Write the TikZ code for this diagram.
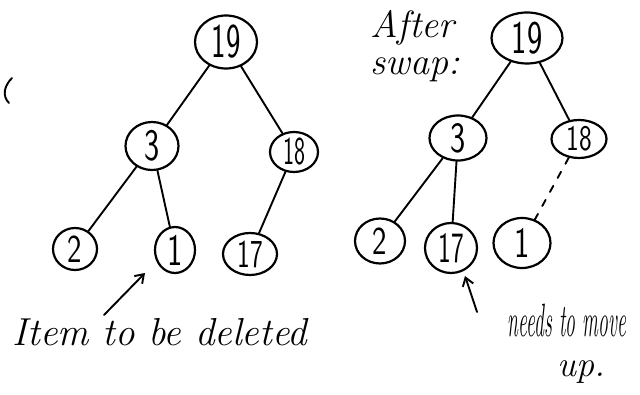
\documentclass[tikz,border=0pt]{standalone}
\usepackage{fontspec}
\usetikzlibrary{shapes.geometric,arrows.meta}
\begin{document}
\begin{tikzpicture}[x=1pt,y=-1pt,
  every path/.style={line width=2pt,line cap=round,line join=round},
  heapnode/.style={draw,ellipse,inner sep=0pt,line width=2.2pt,
    font=\fontsize{36}{36}\sffamily\selectfont},
  edge/.style={draw,line width=1.9pt},
  pointer/.style={draw,line width=1.9pt,-{Straight Barb[length=8pt,width=11pt]}},
  note/.style={font=\fontsize{32}{32}\selectfont\itshape,inner sep=0pt}]
\useasboundingbox (0,0) rectangle (640,395);
\fill[white] (0,0) rectangle (640,395);

% heap before the swap
\node[heapnode,minimum width=62pt,minimum height=53pt] (a19) at (226,42) {\scalebox{0.85}[1.35]{19}};
\node[heapnode,minimum width=53pt,minimum height=48pt] (a3)  at (152,146) {\scalebox{0.9}[1.25]{3}};
\node[heapnode,minimum width=48pt,minimum height=40pt] (a18) at (294,152) {\scalebox{0.65}[1.1]{18}};
\node[heapnode,minimum width=44pt,minimum height=42pt] (a2)  at (75,249) {\scalebox{0.85}[1.1]{2}};
\node[heapnode,minimum width=40pt,minimum height=46pt] (a1)  at (175,250) {\scalebox{0.9}[1.25]{1}};
\node[heapnode,minimum width=54pt,minimum height=42pt] (a17) at (250,254) {\scalebox{0.75}[1.1]{17}};

\draw[edge] (a19) -- (a3);
\draw[edge] (a19) -- (a18);
\draw[edge] (a3) -- (a2);
\draw[edge] (a3) -- (a1);
\draw[edge] (a18) -- (a17);

% stray pen stroke at the left edge
\draw[line width=1.9pt] (12,78) .. controls (4,86) and (2,96) .. (9,103);

\node[note,font=\fontsize{39}{39}\selectfont\itshape] (delnote) at (160,332) {Item to be deleted};
\coordinate (deltail) at (104,315);
\coordinate (delhead) at (145,273);
\draw[pointer] (deltail) -- (delhead);

% heap after the swap
\node[note,align=left,font=\fontsize{38}{37}\selectfont\itshape] (swapnote) at (415,46) {After\\swap:};

\node[heapnode,minimum width=71pt,minimum height=51pt] (b19) at (527,38) {\scalebox{0.9}[1.3]{19}};
\node[heapnode,minimum width=57pt,minimum height=45pt] (b3)  at (458,138) {\scalebox{0.9}[1.2]{3}};
\node[heapnode,minimum width=55pt,minimum height=38pt] (b18) at (579,139) {\scalebox{0.75}[1.0]{18}};
\node[heapnode,minimum width=50pt,minimum height=45pt] (b2)  at (380,241) {\scalebox{0.85}[1.1]{2}};
\node[heapnode,minimum width=52pt,minimum height=50pt] (b17) at (451,248) {\scalebox{0.75}[1.2]{17}};
\node[heapnode,minimum width=57pt,minimum height=50pt] (b1)  at (522,243) {\scalebox{0.9}[1.2]{1}};

\draw[edge] (b19) -- (b3);
\draw[edge] (b19) -- (b18);
\draw[edge] (b3) -- (b2);
\draw[edge] (b3) -- (b17);
\draw[edge,dash pattern=on 7pt off 9pt] (b18) -- (b1);

\node[note,font=\fontsize{36}{36}\selectfont\itshape] (movenote) at (567,320) {\scalebox{0.55}[1.3]{needs to move}};
\node[note,font=\fontsize{36}{36}\selectfont\itshape] (upnote) at (581,372) {up.};
\coordinate (movetail) at (477,312);
\coordinate (movehead) at (465,276);
\draw[pointer] (movetail) -- (movehead);
\end{tikzpicture}
\end{document}
